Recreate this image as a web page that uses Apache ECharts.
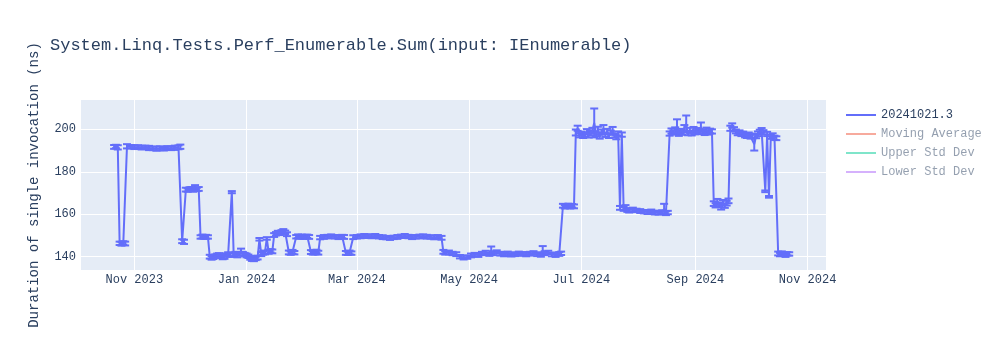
<!DOCTYPE html>
<html>
<head>
<meta charset="utf-8">
<script src="https://cdn.jsdelivr.net/npm/echarts@6/dist/echarts.min.js"></script>
<style>html,body{margin:0;padding:0;background:#fff}#c{width:1000px;height:350px}</style>
</head>
<body>
<div id="c"></div>
<script>
const chartTitle = 'System.Linq.Tests.Perf_Enumerable.Sum(input: IEnumerable)';
const yAxisTitle = 'Duration of single invocation (ns)';
const seriesNames = ['20241021.3', 'Moving Average', 'Upper Std Dev', 'Lower Std Dev'];
const monthNames = ['Jan','Feb','Mar','Apr','May','Jun','Jul','Aug','Sep','Oct','Nov','Dec'];

const dates = [
'2023-10-21','2023-10-22','2023-10-23','2023-10-24','2023-10-25','2023-10-26','2023-10-27','2023-10-28','2023-10-30','2023-11-01',
'2023-11-03','2023-11-05','2023-11-07','2023-11-09','2023-11-11','2023-11-13','2023-11-15','2023-11-17','2023-11-19','2023-11-21',
'2023-11-23','2023-11-25','2023-11-26','2023-11-27','2023-11-28','2023-11-29','2023-11-30','2023-12-01','2023-12-02','2023-12-03',
'2023-12-04','2023-12-05','2023-12-06','2023-12-07','2023-12-08','2023-12-09','2023-12-10','2023-12-11','2023-12-12','2023-12-13',
'2023-12-14','2023-12-15','2023-12-16','2023-12-17','2023-12-18','2023-12-19','2023-12-20','2023-12-21','2023-12-22','2023-12-23',
'2023-12-24','2023-12-25','2023-12-26','2023-12-27','2023-12-28','2023-12-29','2023-12-30','2023-12-31','2024-01-01','2024-01-02',
'2024-01-03','2024-01-04','2024-01-05','2024-01-06','2024-01-07','2024-01-08','2024-01-09','2024-01-10','2024-01-11','2024-01-12',
'2024-01-13','2024-01-14','2024-01-15','2024-01-16','2024-01-17','2024-01-18','2024-01-19','2024-01-20','2024-01-21','2024-01-22',
'2024-01-23','2024-01-24','2024-01-25','2024-01-26','2024-01-27','2024-01-28','2024-01-29','2024-01-30','2024-01-31','2024-02-01',
'2024-02-02','2024-02-03','2024-02-04','2024-02-05','2024-02-06','2024-02-07','2024-02-08','2024-02-09','2024-02-10','2024-02-12',
'2024-02-14','2024-02-16','2024-02-18','2024-02-20','2024-02-22','2024-02-23','2024-02-24','2024-02-25','2024-02-26','2024-02-27',
'2024-02-28','2024-03-01','2024-03-03','2024-03-05','2024-03-07','2024-03-09','2024-03-11','2024-03-13','2024-03-15','2024-03-17',
'2024-03-19','2024-03-21','2024-03-23','2024-03-25','2024-03-27','2024-03-29','2024-03-31','2024-04-02','2024-04-04','2024-04-06',
'2024-04-08','2024-04-10','2024-04-12','2024-04-14','2024-04-16','2024-04-17','2024-04-18','2024-04-20','2024-04-22','2024-04-24',
'2024-04-26','2024-04-28','2024-04-30','2024-05-02','2024-05-04','2024-05-06','2024-05-08','2024-05-10','2024-05-12','2024-05-13',
'2024-05-14','2024-05-16','2024-05-18','2024-05-20','2024-05-22','2024-05-24','2024-05-26','2024-05-28','2024-05-30','2024-06-01',
'2024-06-03','2024-06-05','2024-06-07','2024-06-09','2024-06-10','2024-06-11','2024-06-13','2024-06-15','2024-06-17','2024-06-19',
'2024-06-20','2024-06-21','2024-06-22','2024-06-23','2024-06-24','2024-06-25','2024-06-26','2024-06-27','2024-06-28','2024-06-29',
'2024-06-30','2024-07-01','2024-07-02','2024-07-03','2024-07-04','2024-07-05','2024-07-06','2024-07-07','2024-07-08','2024-07-09',
'2024-07-10','2024-07-11','2024-07-12','2024-07-13','2024-07-14','2024-07-15','2024-07-16','2024-07-17','2024-07-18','2024-07-19',
'2024-07-20','2024-07-21','2024-07-22','2024-07-23','2024-07-24','2024-07-25','2024-07-26','2024-07-27','2024-07-29','2024-07-31',
'2024-08-02','2024-08-04','2024-08-06','2024-08-08','2024-08-10','2024-08-12','2024-08-14','2024-08-15','2024-08-16','2024-08-17',
'2024-08-18','2024-08-19','2024-08-20','2024-08-21','2024-08-22','2024-08-23','2024-08-24','2024-08-25','2024-08-26','2024-08-27',
'2024-08-28','2024-08-29','2024-08-30','2024-08-31','2024-09-01','2024-09-02','2024-09-03','2024-09-04','2024-09-05','2024-09-06',
'2024-09-07','2024-09-08','2024-09-09','2024-09-10','2024-09-11','2024-09-12','2024-09-13','2024-09-14','2024-09-15','2024-09-16',
'2024-09-17','2024-09-18','2024-09-19','2024-09-20','2024-09-21','2024-09-22','2024-09-23','2024-09-24','2024-09-25','2024-09-26',
'2024-09-27','2024-09-28','2024-09-29','2024-09-30','2024-10-01','2024-10-02','2024-10-03','2024-10-04','2024-10-05','2024-10-06',
'2024-10-07','2024-10-08','2024-10-09','2024-10-10','2024-10-11','2024-10-12','2024-10-13','2024-10-14','2024-10-15','2024-10-16',
'2024-10-17','2024-10-18','2024-10-19','2024-10-20','2024-10-21','2024-10-22'
];

const values = [
191.7,191.9,191.5,146.3,146.1,146.5,146.2,192.0,191.8,191.6,
191.7,191.4,191.5,191.2,191.0,190.9,191.1,190.8,191.2,191.0,
191.3,191.5,191.8,147.3,147.0,171.6,171.4,171.8,172.0,171.5,
172.6,171.7,171.9,149.3,149.5,149.2,149.4,149.3,140.0,139.4,
139.8,140.3,140.6,140.9,140.3,139.6,139.9,140.8,141.2,140.7,
170.4,140.9,141.5,140.6,141.3,142.6,141.4,141.0,140.6,140.2,
139.5,139.0,138.8,139.2,139.6,148.2,141.2,141.8,142.0,148.6,
142.3,142.8,142.5,150.2,150.8,151.3,151.0,151.6,152.0,151.5,
150.6,142.0,141.7,142.3,141.9,149.4,149.6,149.3,149.5,149.2,
149.4,149.6,149.3,142.2,141.8,142.0,142.5,141.9,149.0,149.3,
149.5,149.6,149.4,149.2,149.5,149.3,141.8,141.6,142.0,141.7,
149.2,149.4,149.6,149.9,149.7,149.5,149.8,149.4,149.2,149.0,
148.8,149.1,149.3,149.6,149.8,149.5,149.2,149.4,149.5,149.7,
149.4,149.3,149.1,149.4,148.9,142.3,141.8,142.0,141.5,141.2,
140.0,139.6,139.8,140.6,141.0,140.8,141.5,141.9,141.2,143.0,
141.6,142.2,141.4,141.0,141.5,140.9,141.2,141.6,141.3,141.0,
141.4,141.8,141.2,140.8,143.0,141.6,142.0,141.1,140.7,141.3,
141.6,164.0,163.5,163.8,164.2,163.6,164.0,163.7,198.5,200.5,
197.2,198.0,196.8,197.5,199.0,197.0,198.2,199.5,203.0,197.6,
199.8,196.5,198.8,200.2,197.3,199.0,196.8,198.4,199.6,197.0,
196.2,198.0,163.0,197.5,162.5,163.2,162.0,161.6,162.2,161.8,
161.5,161.2,161.0,161.4,160.8,160.6,161.0,162.5,160.5,160.8,
198.0,199.2,198.5,199.6,201.5,197.8,199.0,198.4,200.5,202.5,
198.2,199.5,198.0,199.8,198.6,199.4,198.8,201.0,199.0,198.2,
199.6,198.5,199.2,199.0,165.0,164.2,166.0,164.5,163.2,165.5,
164.0,165.2,166.3,200.5,201.8,200.0,199.0,198.2,198.6,197.8,
198.0,197.2,196.8,197.5,196.5,197.0,193.0,196.8,197.9,198.8,
199.5,198.6,170.8,197.8,168.2,196.5,197.2,196.0,195.8,141.5,
141.0,141.6,141.2,140.8,141.4,141.3
];

const errors = [
0.9,0.8,1.0,0.8,0.9,0.8,0.9,1.0,0.8,0.9,
0.8,0.9,0.8,1.0,0.8,1.0,0.9,0.8,0.9,0.8,
1.0,0.9,1.0,0.9,1.0,0.9,0.8,0.9,0.8,0.9,
1.1,0.8,0.9,0.8,0.9,0.8,0.9,0.8,0.9,0.8,
0.9,0.8,0.9,0.8,0.9,0.8,0.9,0.8,0.9,0.8,
0.5,0.9,0.8,0.9,0.8,1.2,0.9,0.8,0.9,0.8,
0.9,1.0,0.9,0.8,0.9,0.6,0.9,0.8,0.9,0.6,
0.9,0.8,0.9,0.9,0.8,0.9,0.8,0.9,1.0,0.8,
0.9,0.9,0.8,0.9,0.8,0.8,0.9,0.8,0.9,0.8,
0.9,0.8,0.9,0.9,0.8,0.9,0.8,0.9,0.8,0.9,
0.8,0.9,0.8,0.9,0.8,0.9,0.9,0.8,0.9,0.8,
0.9,0.8,0.9,0.8,0.9,0.8,0.9,0.8,0.9,0.8,
0.9,0.8,0.9,0.8,0.9,0.8,0.9,0.8,0.9,0.8,
0.9,0.8,0.9,0.8,0.9,0.9,0.8,0.9,0.8,0.9,
0.8,0.9,0.8,0.9,0.8,0.9,0.8,0.9,0.8,1.8,
0.9,0.8,0.9,0.8,0.9,0.8,0.9,0.8,0.9,0.8,
0.9,0.8,0.9,0.8,2.0,0.9,0.8,0.9,0.8,0.9,
0.8,0.9,0.8,0.9,0.8,0.9,0.8,0.9,1.4,1.2,
1.0,0.9,0.9,1.0,1.1,0.9,1.0,1.2,6.8,0.9,
1.4,0.9,1.1,1.8,0.9,1.2,0.9,1.0,1.5,0.9,
0.9,1.0,0.9,1.0,0.9,1.1,0.9,0.8,0.9,0.8,
0.9,0.8,0.9,0.8,0.9,0.8,0.9,2.4,0.9,0.8,
1.0,1.2,1.0,1.3,3.2,0.9,1.2,1.0,1.5,4.0,
1.0,1.2,0.9,1.3,1.0,1.2,1.0,2.2,1.1,0.9,
1.2,1.0,1.1,1.0,1.1,1.0,1.2,1.1,1.0,1.2,
1.0,1.1,1.1,1.2,1.0,1.0,0.9,1.0,0.9,1.0,
0.9,1.0,0.9,1.0,0.9,1.0,3.0,1.0,1.1,1.0,
1.1,1.0,0.4,1.0,0.4,1.0,0.9,1.0,0.9,0.9,
0.8,0.9,0.8,0.9,0.8,0.8
];

const xMin = '2023-10-02 11:00';
const xMax = '2024-11-11 00:00';
const yMin = 133.74;
const yMax = 213.8;

const FONT = "'Liberation Mono', 'Courier New', monospace";
const TXT = '#2a3f5f';
const MAIN = '#636efa';

const lineData = dates.map((d, i) => [d, values[i]]);
const errData = dates.map((d, i) => [d, values[i] - errors[i], values[i] + errors[i]]);

const chart = echarts.init(document.getElementById('c'), null, {renderer: 'canvas'});
chart.setOption({
  animation: false,
  backgroundColor: '#fff',
  title: {
    text: chartTitle, left: 50, top: 37, padding: 0,
    textStyle: {fontFamily: FONT, fontSize: 17, fontWeight: 'normal', color: TXT}
  },
  legend: {
    orient: 'vertical', left: 846, top: 109, itemWidth: 30, itemHeight: 2, itemGap: 7,
    padding: 0, icon: 'rect',
    textStyle: {fontFamily: FONT, fontSize: 12, color: TXT, padding: [0, 0, 0, 0]},
    data: [
      {name: seriesNames[0]},
      {name: seriesNames[1], textStyle: {color: 'rgba(42,63,95,0.5)'}},
      {name: seriesNames[2], textStyle: {color: 'rgba(42,63,95,0.5)'}},
      {name: seriesNames[3], textStyle: {color: 'rgba(42,63,95,0.5)'}}
    ],
    selectedMode: false
  },
  grid: {left: 80, top: 100, width: 746, height: 170, show: true, backgroundColor: '#E5ECF6', borderWidth: 0, containLabel: false},
  xAxis: {
    type: 'time', min: xMin, max: xMax, splitNumber: 5,
    axisLine: {show: false}, axisTick: {show: false},
    splitLine: {show: true, lineStyle: {color: '#fff', width: 1}},
    axisLabel: {
      fontFamily: FONT, fontSize: 12, color: TXT, margin: 4,
      formatter: function (v) { const d = new Date(v); return monthNames[d.getMonth()] + ' ' + d.getFullYear(); }
    }
  },
  yAxis: {
    type: 'value', min: yMin, max: yMax, splitNumber: 4,
    name: yAxisTitle, nameLocation: 'middle', nameGap: 39, nameRotate: 90,
    nameTextStyle: {fontFamily: FONT, fontSize: 14, color: TXT},
    axisLine: {show: false}, axisTick: {show: false},
    splitLine: {show: true, showMinLine: false, showMaxLine: false, lineStyle: {color: '#fff', width: 1}},
    axisLabel: {fontFamily: FONT, fontSize: 12, color: TXT, margin: 4, showMinLabel: false, showMaxLabel: false}
  },
  series: [
    {
      name: 'errorbars', type: 'custom', data: errData, encode: {x: 0, y: [1, 2]}, z: 3,
      renderItem: function (params, api) {
        const x = api.value(0);
        const p1 = api.coord([x, api.value(1)]);
        const p2 = api.coord([x, api.value(2)]);
        const hw = 4;
        const st = {stroke: MAIN, lineWidth: 2};
        return {type: 'group', children: [
          {type: 'line', shape: {x1: p1[0], y1: p1[1], x2: p2[0], y2: p2[1]}, style: st},
          {type: 'line', shape: {x1: p1[0] - hw, y1: p1[1], x2: p1[0] + hw, y2: p1[1]}, style: st},
          {type: 'line', shape: {x1: p2[0] - hw, y1: p2[1], x2: p2[0] + hw, y2: p2[1]}, style: st}
        ]};
      }
    },
    {name: seriesNames[0], type: 'line', data: lineData, symbol: 'none', z: 4,
     lineStyle: {color: MAIN, width: 2}, itemStyle: {color: MAIN}},
    {name: seriesNames[1], type: 'line', data: [], symbol: 'none',
     lineStyle: {color: 'rgba(239,85,59,0.5)', width: 2}, itemStyle: {color: 'rgba(239,85,59,0.5)'}},
    {name: seriesNames[2], type: 'line', data: [], symbol: 'none',
     lineStyle: {color: 'rgba(0,204,150,0.5)', width: 2}, itemStyle: {color: 'rgba(0,204,150,0.5)'}},
    {name: seriesNames[3], type: 'line', data: [], symbol: 'none',
     lineStyle: {color: 'rgba(171,99,250,0.5)', width: 2}, itemStyle: {color: 'rgba(171,99,250,0.5)'}}
  ]
});
</script>
</body>
</html>
